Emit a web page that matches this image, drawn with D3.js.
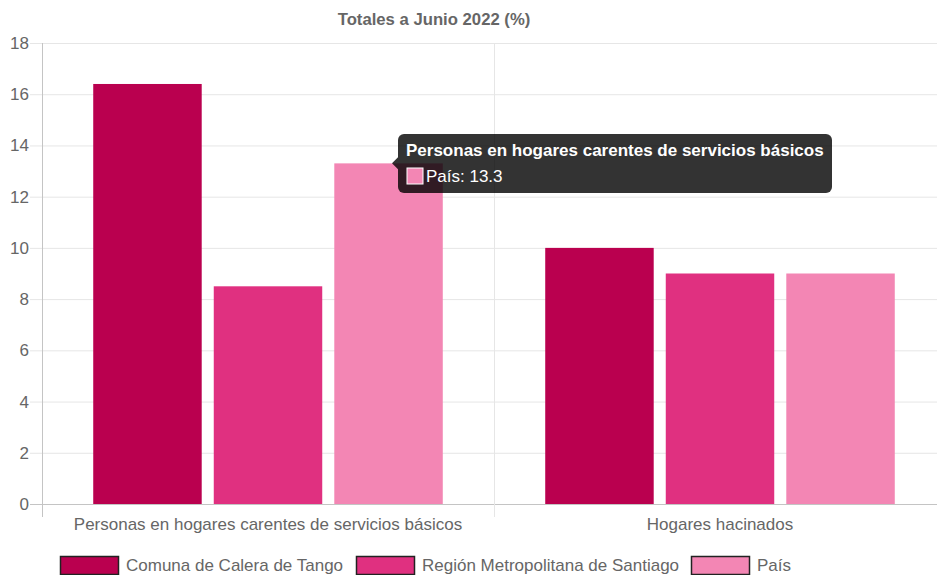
<html>
<head>
    <meta charset="utf-8">
    <script src="https://d3js.org/d3.v7.min.js"></script>
    <title>Totales a Junio 2022</title>
    <style>
        body { margin: 0; background: #fff; }
        text { font-family: "Liberation Sans", Arial, sans-serif; }
    </style>
</head>
<body>
<svg id="chart"></svg>
<script>
    // data
    const categories = ["Personas en hogares carentes de servicios básicos", "Hogares hacinados"];
    const series = ["Comuna de Calera de Tango", "Región Metropolitana de Santiago", "País"];
    const comuna = [16.4, 10.0];
    const region = [8.5, 9.0];
    const pais = [13.3, 9.0];
    const yTicks = [0, 2, 4, 6, 8, 10, 12, 14, 16, 18];
    const colors = ["#ba004f", "#e03080", "#f386b4"];

    const values = [comuna, region, pais];
    const width = 937, height = 575;
    const plotLeft = 42, plotRight = 946, plotTop = 43, plotBottom = 504;
    const fs = 17;

    const svg = d3.select("svg#chart")
                  .attr("width", width)
                  .attr("height", height);

    const yScale = d3.scaleLinear().domain([0, 18]).range([plotBottom, plotTop]);
    const xScale = d3.scaleBand().domain(categories).range([plotLeft, plotRight]);
    const inner = d3.scaleBand().domain(series)
                    .range([0.1 * xScale.bandwidth(), 0.9 * xScale.bandwidth()])
                    .paddingInner(0.1).paddingOuter(0.05);

    // horizontal grid + tick marks
    svg.append("g").selectAll("line").data(yTicks)
       .join("line")
       .attr("x1", plotLeft - 12).attr("x2", width)
       .attr("y1", d => yScale(d) + 0.5).attr("y2", d => yScale(d) + 0.5)
       .attr("stroke", d => d === 0 ? "#c4c4c4" : "#e6e6e6");

    // vertical grid lines (category borders)
    svg.append("g").selectAll("line").data([plotLeft, plotLeft + xScale.step()])
       .join("line")
       .attr("x1", d => d + 0.5).attr("x2", d => d + 0.5)
       .attr("y1", plotTop).attr("y2", plotBottom + 13)
       .attr("stroke", (d, i) => i === 0 ? "#c4c4c4" : "#e6e6e6");

    // y tick labels
    svg.append("g").selectAll("text").data(yTicks)
       .join("text")
       .attr("x", 29).attr("y", d => yScale(d))
       .attr("dy", "0.35em")
       .attr("text-anchor", "end")
       .attr("font-size", fs)
       .attr("fill", "#666")
       .text(d => d);

    // x labels
    svg.append("g").selectAll("text").data(categories)
       .join("text")
       .attr("x", d => xScale(d) + xScale.bandwidth() / 2)
       .attr("y", 530)
       .attr("text-anchor", "middle")
       .attr("font-size", fs)
       .attr("fill", "#666")
       .text(d => d);

    // bars
    series.forEach((s, si) => {
        svg.append("g").selectAll("rect").data(categories)
           .join("rect")
           .attr("x", d => xScale(d) + inner(s))
           .attr("width", inner.bandwidth())
           .attr("y", (d, i) => yScale(values[si][i]))
           .attr("height", (d, i) => plotBottom - yScale(values[si][i]))
           .attr("fill", colors[si]);
    });

    // title
    svg.append("text")
       .attr("x", 434).attr("y", 25)
       .attr("text-anchor", "middle")
       .attr("font-size", 16.7)
       .attr("font-weight", "bold")
       .attr("fill", "#666")
       .text("Totales a Junio 2022 (%)");

    // legend
    const legendX = [60, 356, 691];
    const legend = svg.append("g").selectAll("g").data(series)
                      .join("g")
                      .attr("transform", (d, i) => `translate(${legendX[i]},556)`);
    legend.append("rect")
          .attr("x", 0.5).attr("y", 0.5)
          .attr("width", 58).attr("height", 18)
          .attr("fill", (d, i) => colors[i])
          .attr("stroke", "#222").attr("stroke-width", 1.5);
    legend.append("text")
          .attr("x", 66).attr("y", 9)
          .attr("dy", "0.35em")
          .attr("font-size", fs)
          .attr("fill", "#666")
          .text(d => d);

    // tooltip on the País bar
    const tipY = yScale(pais[0]);
    const tip = svg.append("g").attr("transform", `translate(398,134)`);
    tip.append("path")
       .attr("d", `M0,${tipY - 134 - 6} L-6,${tipY - 134} L0,${tipY - 134 + 6} Z`)
       .attr("fill", "rgba(0,0,0,0.8)");
    tip.append("rect")
       .attr("width", 434).attr("height", 59).attr("rx", 6)
       .attr("fill", "rgba(0,0,0,0.8)");
    tip.append("text")
       .attr("x", 8).attr("y", 22)
       .attr("font-size", fs).attr("font-weight", "bold")
       .attr("fill", "#fff")
       .text(categories[0]);
    tip.append("rect")
       .attr("x", 9).attr("y", 34)
       .attr("width", 16).attr("height", 16)
       .attr("fill", colors[2])
       .attr("stroke", "#fff").attr("stroke-width", 1);
    tip.append("text")
       .attr("x", 28).attr("y", 48)
       .attr("font-size", fs)
       .attr("fill", "#fff")
       .text(series[2] + ": " + pais[0]);
</script>
</body>
</html>
